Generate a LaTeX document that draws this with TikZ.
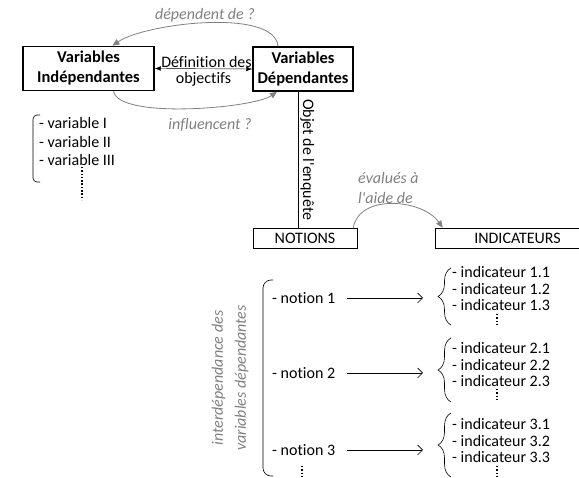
\documentclass[tikz,border=0pt]{standalone}
\usepackage{fontspec}
\setmainfont{Carlito}[Ligatures={TeX,NoCommon}]
\usetikzlibrary{arrows.meta, positioning, decorations.pathreplacing}

\definecolor{softgray}{RGB}{128,128,128}
\newcommand{\basefont}{\fontsize{16}{16.5}\selectfont}

\tikzset{
  varbox/.style={draw, line width=1.5pt, align=center, inner sep=0pt,
                 font=\fontsize{16.5}{20}\selectfont\bfseries},
  titlebox/.style={draw, semithick, inner sep=0pt, minimum height=20pt, font=\basefont},
  item/.style={align=left, inner sep=0pt, font=\basefont},
  question/.style={text=softgray, inner sep=0pt, font=\basefont\itshape},
  askarrow/.style={draw=softgray, thick, -{Triangle[length=7pt, width=6pt]}},
  notearrow/.style={semithick, -{Straight Barb[length=5pt, width=10pt]}},
  vdots/.style={line width=1.6pt, dash pattern=on 1.5pt off 1.8pt},
  brack/.style={semithick, rounded corners=4pt},
  curly/.style={semithick, decorate, decoration={brace, amplitude=13pt}}
}

\begin{document}
\begin{tikzpicture}[x=1pt, y=1pt]
  \useasboundingbox (0,0) rectangle (579,478);

  % variables
  \node[varbox, minimum width=131pt, minimum height=44pt] (indep) at (88.5,409.5) {Variables\\Indépendantes};
  \node[varbox, minimum width=100pt, minimum height=44pt] (dep)   at (303,409)   {Variables\\Dépendantes};
  \draw[{Latex[length=6pt]}-{Latex[length=6pt]}] (indep.east) -- (dep.west)
       node[midway, above=1pt, xshift=3pt, item] (defobj) {Définition des}
       node[midway, below=3pt, item] (objectifs) {objectifs};

  \draw[askarrow] ([xshift=-25pt]dep.north) to[out=95, in=35, looseness=0.6] ([xshift=24pt]indep.north);
  \node[question] (dependq) at (205,463) {dépendent de ?};
  \draw[askarrow] ([xshift=25pt]indep.south) to[out=-80, in=-145, looseness=0.45] ([xshift=-26pt]dep.south);
  \node[question] (influq) at (210,353) {influencent ?};

  \node[item, anchor=west, font=\fontsize{16}{18.5}\selectfont] (varlist) at (39,336) {- variable I\\- variable II\\- variable III};
  \draw[brack] (40,363) -- (33,363) -- (33,296) -- (40,296);
  \draw[vdots] (82,311) -- (82,278);

  % notions and indicateurs
  \node[titlebox, minimum width=104pt] (notions) at (305,240) {NOTIONS};
  \node[titlebox, minimum width=165pt] (indic)   at (517.5,240) {INDICATEURS};
  \draw[line width=1.5pt] (notions.north east) -- (notions.south east) -- (notions.south west);
  \draw[line width=1.5pt] (indic.south west) -- (indic.south east);

  \draw[semithick] ([xshift=-5pt]dep.south) -- ([xshift=-5pt]dep.south |- notions.north)
       node[midway, anchor=south, rotate=-90, item, inner sep=2pt] (objet) {Objet de l{\textquotesingle}enquête};

  \draw[askarrow] ([xshift=-4pt]notions.north east) to[out=80, in=125] ([xshift=8pt]indic.north west);
  \node[question, align=left, anchor=west, font=\fontsize{16}{20}\selectfont\itshape] (evalq) at (358,290) {évalués à\\l{\textquotesingle}aide de};

  \node[question, rotate=90, align=center, font=\fontsize{16}{23}\selectfont\itshape] (interdep) at (230,100) {interdépendance des\\variables dépendantes};
  \draw[brack, rounded corners=8pt] (273,198) -- (263,198) -- (263,2) -- (273,2);

  \node[item, anchor=west] (n1) at (272,180) {- notion 1};
  \node[item, anchor=west] (n2) at (272,105) {- notion 2};
  \node[item, anchor=west] (n3) at (272,28)  {- notion 3};
  \draw[vdots] (302,12) -- (302,1);

  \coordinate (b1) at (438,181.5);
  \coordinate (b2) at (438,108);
  \coordinate (b3) at (438,33);

  \node[item, anchor=west] (ind1) at (452,189) {- indicateur 1.1\\- indicateur 1.2\\- indicateur 1.3};
  \node[item, anchor=west] (ind2) at (452,113) {- indicateur 2.1\\- indicateur 2.2\\- indicateur 2.3};
  \node[item, anchor=west] (ind3) at (452,37)  {- indicateur 3.1\\- indicateur 3.2\\- indicateur 3.3};
  \draw[curly] (451,153) -- (451,210);
  \draw[curly] (451,76) -- (451,140);
  \draw[curly] (451,1) -- (451,65);
  \draw[vdots] (497,164) -- (497,153);
  \draw[vdots] (497,89) -- (497,78);
  \draw[vdots] (497,12) -- (497,1);

  \draw[notearrow, shorten <=12pt, shorten >=15pt] (n1.east) -- (n1.east -| b1);
  \draw[notearrow, shorten <=12pt, shorten >=15pt] (n2.east) -- (n2.east -| b2);
  \draw[notearrow, shorten <=12pt, shorten >=15pt] (n3.east) -- (n3.east -| b3);
\end{tikzpicture}
\end{document}
